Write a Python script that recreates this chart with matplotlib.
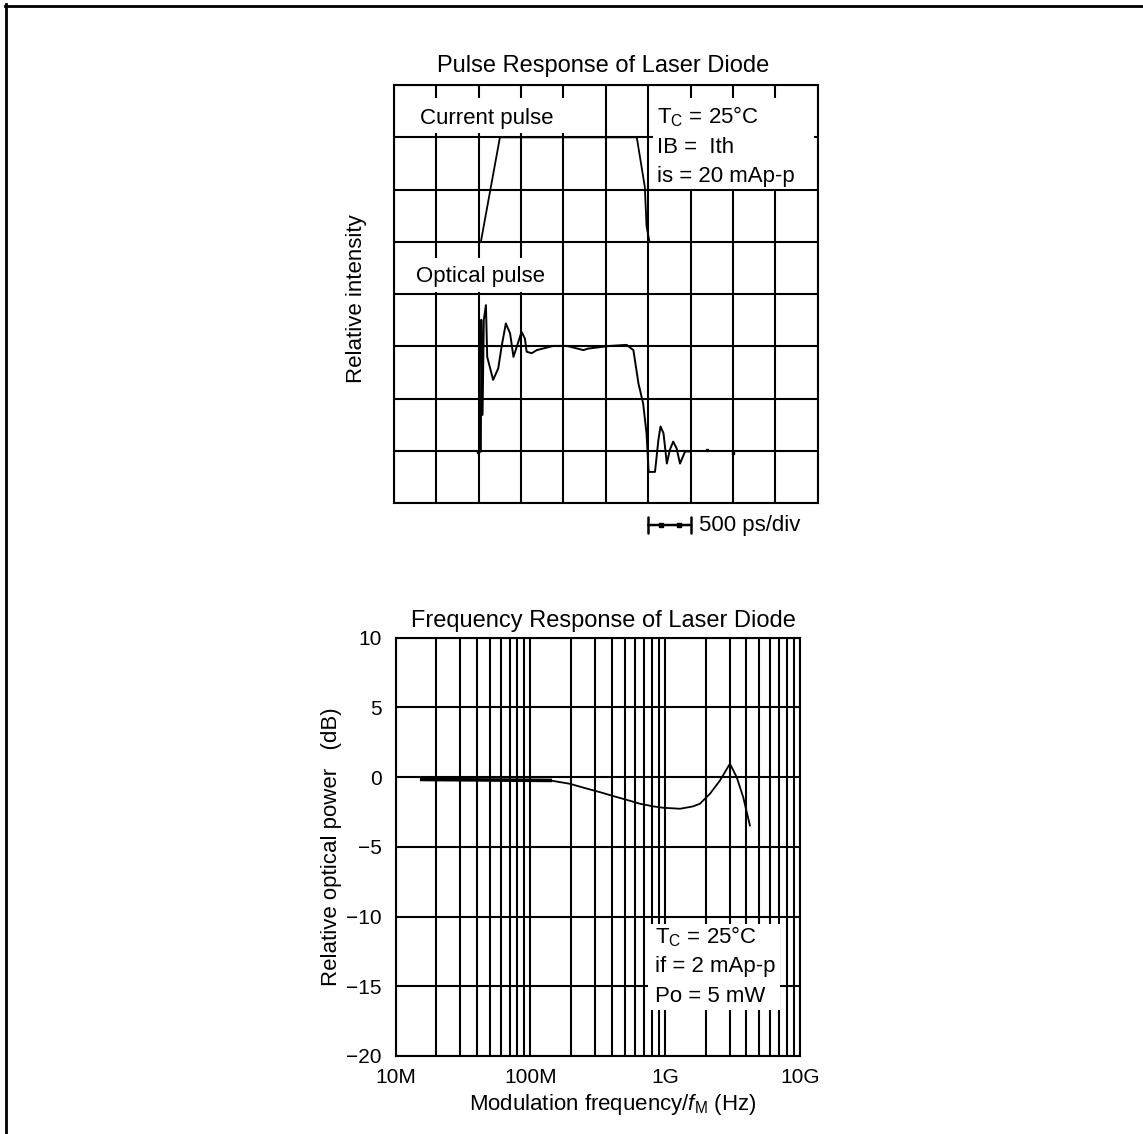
import matplotlib
matplotlib.use("Agg")
import matplotlib.pyplot as plt
from matplotlib.lines import Line2D
from matplotlib.patches import Rectangle
from matplotlib.ticker import LogLocator, NullFormatter
from matplotlib.transforms import blended_transform_factory

plt.rcParams['font.family'] = ['Liberation Sans', 'DejaVu Sans']
plt.rcParams['mathtext.fontset'] = 'custom'
plt.rcParams['mathtext.rm'] = 'Liberation Sans'
plt.rcParams['mathtext.it'] = 'Liberation Sans:italic'

# pulse response, read in scope divisions (10 x 8 screen, 500 ps/div)
current_t = [2.05, 2.50, 5.73, 5.92, 5.96, 6.03]
current_v = [5.0, 7.0, 7.0, 6.05, 5.3, 5.0]

optical_t = [2.05, 2.06, 2.09, 2.12, 2.17, 2.20, 2.34, 2.46, 2.54, 2.64,
             2.74, 2.82, 2.90, 3.01, 3.09, 3.13, 3.25, 3.37, 3.76, 4.08,
             4.47, 4.59, 5.10, 5.49, 5.65, 5.77, 5.88, 5.96, 6.01, 6.16,
             6.24, 6.29, 6.36, 6.44, 6.51, 6.59, 6.67, 6.75, 6.87, 6.99]
optical_v = [0.99, 3.51, 1.69, 3.51, 3.79, 2.80, 2.36, 2.58, 3.00, 3.44,
             3.25, 2.80, 3.00, 3.28, 3.15, 2.90, 2.87, 2.93, 3.01, 3.01,
             2.93, 2.96, 3.01, 3.03, 2.93, 2.29, 1.91, 1.34, 0.60, 0.60,
             1.21, 1.47, 1.34, 0.76, 1.02, 1.18, 1.05, 0.76, 0.99, 0.99]
stray_t = [1.99, 7.38, 8.01]
stray_v = [0.99, 1.02, 0.96]

# frequency response
freq_hz = [15.6e6, 140e6, 196e6, 254e6, 328e6, 411e6, 517e6, 649e6, 815e6,
           966e6, 1.29e9, 1.61e9, 1.81e9, 2.15e9, 2.55e9, 3.02e9, 3.39e9,
           3.79e9, 4.25e9]
gain_db = [-0.17, -0.24, -0.48, -0.79, -1.08, -1.36, -1.63, -1.91, -2.10,
           -2.20, -2.27, -2.10, -1.91, -1.19, -0.24, 0.96, 0.0, -1.44, -3.47]

freq_ticks = [1e7, 1e8, 1e9, 1e10]
freq_labels = ['10M', '100M', '1G', '10G']
db_ticks = [-20, -15, -10, -5, 0, 5, 10]

FS = 16
GRID_LW = 1.5

fig = plt.figure(figsize=(11.43, 11.34), dpi=100)

# page frame (top and left edge only)
fig.add_artist(Line2D([0.0044, 1.0], [0.9951, 0.9951], color='black', lw=2.0))
fig.add_artist(Line2D([0.0054, 0.0054], [0.0, 0.9962], color='black', lw=2.0))

# ---------------- pulse response ----------------
ax1 = fig.add_axes([0.3447, 0.5562, 0.3707, 0.3688])
ax1.set_xlim(0, 10)
ax1.set_ylim(0, 8)
ax1.set_xticks(range(11))
ax1.set_yticks(range(9))
ax1.set_xticklabels([])
ax1.set_yticklabels([])
ax1.tick_params(length=0)
ax1.set_axisbelow(True)
ax1.grid(True, color='black', lw=GRID_LW)
for sp in ax1.spines.values():
    sp.set_linewidth(GRID_LW)
    sp.set_zorder(5)

# white patches behind the labels so the grid is broken there
for (x0, y0, w, h) in [(0.004, 0.885, 0.482, 0.084),
                       (0.611, 0.752, 0.380, 0.217),
                       (0.004, 0.505, 0.376, 0.081)]:
    ax1.add_patch(Rectangle((x0, y0), w, h, transform=ax1.transAxes,
                            facecolor='white', edgecolor='none', zorder=1))

ax1.plot(current_t, current_v, color='black', lw=1.3, zorder=3)
ax1.plot(optical_t, optical_v, color='black', lw=1.4, zorder=3)
ax1.plot(stray_t, stray_v, ls='none', marker='s', ms=2, color='black', zorder=3)

ax1.text(0.494, 1.032, 'Pulse Response of Laser Diode', transform=ax1.transAxes,
         ha='center', va='baseline', fontsize=FS + 1)
ax1.text(0.061, 0.908, 'Current pulse', transform=ax1.transAxes,
         ha='left', va='baseline', fontsize=FS, zorder=4)
ax1.text(0.052, 0.530, 'Optical pulse', transform=ax1.transAxes,
         ha='left', va='baseline', fontsize=FS, zorder=4)
ax1.text(0.620, 0.908, r'T$_\mathrm{C}$ = 25°C', transform=ax1.transAxes,
         ha='left', va='baseline', fontsize=FS, zorder=4)
ax1.text(0.620, 0.837, 'IB =  Ith', transform=ax1.transAxes,
         ha='left', va='baseline', fontsize=FS, zorder=4)
ax1.text(0.620, 0.769, 'is = 20 mAp-p', transform=ax1.transAxes,
         ha='left', va='baseline', fontsize=FS, zorder=4)

ax1.set_ylabel('Relative intensity', fontsize=FS)
ax1.yaxis.set_label_coords(-0.064, 0.49)

# time scale marker under the screen: one division
trans = blended_transform_factory(ax1.transData, ax1.transAxes)
ax1.annotate('', xy=(7, -0.052), xytext=(6, -0.052), xycoords=trans,
             textcoords=trans, annotation_clip=False,
             arrowprops=dict(arrowstyle='|-|, widthA=0.6, widthB=0.6',
                             lw=1.8, color='black', shrinkA=0, shrinkB=0))
ax1.plot([6.3, 6.72], [-0.052, -0.052], transform=trans, ls='none', marker='s',
         ms=3.5, color='black', clip_on=False)
ax1.text(7.2, -0.052, '500 ps/div', transform=trans, ha='left', va='center',
         fontsize=FS)

# ---------------- frequency response ----------------
ax2 = fig.add_axes([0.3462, 0.0688, 0.3537, 0.3689])
ax2.set_xscale('log')
ax2.set_xlim(1e7, 1e10)
ax2.set_ylim(-20, 10)
ax2.set_xticks(freq_ticks)
ax2.set_xticklabels(freq_labels)
ax2.xaxis.set_minor_locator(LogLocator(base=10, subs=range(2, 10)))
ax2.xaxis.set_minor_formatter(NullFormatter())
ax2.set_yticks(db_ticks)
ax2.tick_params(which='both', length=0, labelsize=FS - 1)
ax2.tick_params(axis='y', pad=10)
ax2.tick_params(axis='x', pad=9)
ax2.set_axisbelow(True)
ax2.grid(True, which='both', axis='x', color='black', lw=GRID_LW)
ax2.grid(True, which='major', axis='y', color='black', lw=GRID_LW)
for sp in ax2.spines.values():
    sp.set_linewidth(GRID_LW)
    sp.set_zorder(5)

ax2.add_patch(Rectangle((0.624, 0.110), 0.326, 0.206, transform=ax2.transAxes,
                        facecolor='white', edgecolor='none', zorder=1))

# low-frequency stretch is drawn heavier
ax2.plot(freq_hz[:2], gain_db[:2], color='black', lw=2.6, zorder=3)
ax2.plot(freq_hz[1:], gain_db[1:], color='black', lw=1.3, zorder=3)

ax2.text(0.515, 1.026, 'Frequency Response of Laser Diode',
         transform=ax2.transAxes, ha='center', va='baseline', fontsize=FS + 1)
ax2.text(0.641, 0.269, r'T$_\mathrm{C}$ = 25°C', transform=ax2.transAxes,
         ha='left', va='baseline', fontsize=FS, zorder=4)
ax2.text(0.641, 0.2015, 'if = 2 mAp-p', transform=ax2.transAxes,
         ha='left', va='baseline', fontsize=FS, zorder=4)
ax2.text(0.641, 0.130, 'Po = 5 mW', transform=ax2.transAxes,
         ha='left', va='baseline', fontsize=FS, zorder=4)

ax2.set_ylabel('Relative optical power   (dB)', fontsize=FS)
ax2.yaxis.set_label_coords(-0.133, 0.5)
ax2.set_xlabel(r'Modulation frequency/$\mathit{f}_\mathrm{M}$ (Hz)', fontsize=FS)
ax2.xaxis.set_label_coords(0.537, -0.086)

fig.savefig('out.png', dpi=100, facecolor='white')
